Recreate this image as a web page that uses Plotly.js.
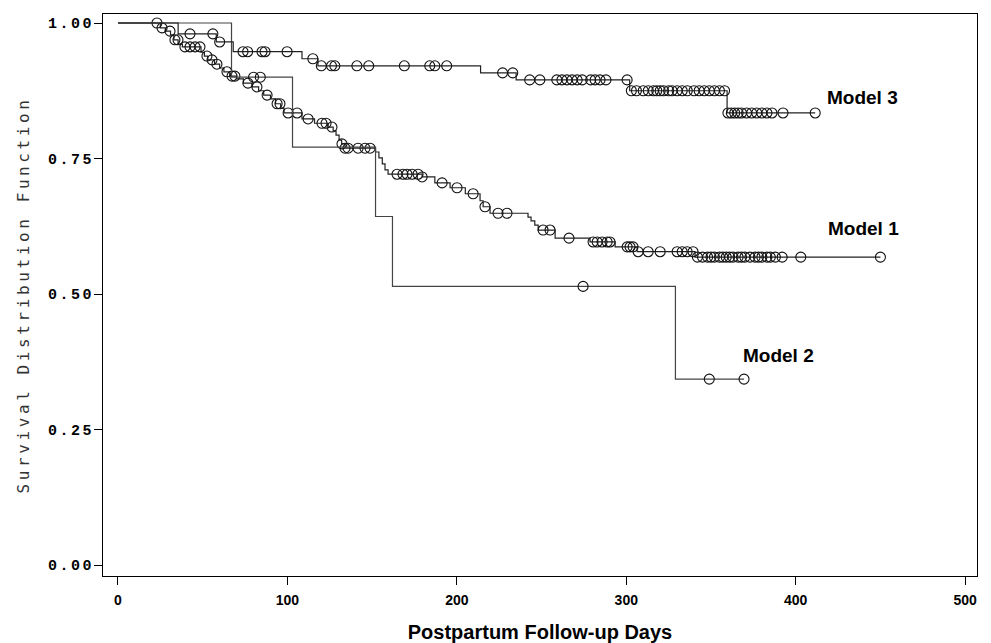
<!DOCTYPE html>
<html>
<head>
<meta charset="utf-8">
<script src="https://cdn.plot.ly/plotly-3.0.1.min.js"></script>
<style>
  html, body { margin: 0; padding: 0; background: #fff; }
  #chart { width: 991px; height: 643px; }
  .ytitle { letter-spacing: 3.6px; }
  .ytick text { letter-spacing: 2.5px; }
</style>
</head>
<body>
<div id="chart"></div>
<script>
// ---------------- DATA ----------------
// Model 1: event times (days) and survival after each event
const model1Times = [25, 28, 31, 33, 35.5, 38, 49, 51, 53, 57, 60, 62.5, 66, 70, 74, 79, 83, 86, 90, 93, 96, 98,
  108.6, 116, 124, 127, 128.7, 130.5, 132, 134, 152, 154, 156, 157.6, 159.4, 179.5, 187, 196, 205, 213.7, 215.5,
  219.6, 242, 243.8, 246, 248, 258, 278.6, 293.4, 306.4, 340.6];
const model1Surv = [0.991, 0.985, 0.978, 0.969, 0.961, 0.956, 0.946, 0.939, 0.932, 0.924, 0.917, 0.910, 0.902, 0.897,
  0.889, 0.882, 0.875, 0.867, 0.860, 0.851, 0.843, 0.834, 0.823, 0.815, 0.808, 0.801, 0.793, 0.784, 0.777, 0.769,
  0.762, 0.751, 0.740, 0.729, 0.721, 0.716, 0.705, 0.696, 0.685, 0.672, 0.661, 0.649, 0.642, 0.635, 0.627, 0.618,
  0.603, 0.596, 0.587, 0.578, 0.568];
const model1Censored = [23, 26, 30.7, 33.6, 35.4, 39.5, 42.5, 45.5, 48.4, 52.5, 55.5, 58.4, 64.3, 67.3, 69, 76.7,
  82, 88, 93.9, 95.6, 100.4, 105.7, 112.2, 120.4, 122.8, 126.3, 132.2, 134, 135.8, 141.7, 145.8, 148.8, 164.7,
  168.2, 170.6, 173.6, 177.1, 179.5, 191.3, 200.1, 209.6, 216.6, 224.3, 229.6, 250.9, 255, 266.2, 280.4, 282.8,
  285.7, 288.7, 290.4, 300.5, 302.2, 304, 307, 312.9, 320, 330, 333, 335.9, 339.4, 342, 345, 348, 350, 352, 355,
  357, 359, 361, 363, 366, 368, 370, 373, 376, 378, 380, 383, 385, 388, 392, 403, 450];

// Model 2
const model2Times = [67, 103, 152, 162, 329];
const model2Surv = [0.900, 0.771, 0.643, 0.514, 0.343];
const model2Censored = [80, 84, 274.5, 349, 369.5];

// Model 3
const model3Times = [35.5, 58, 68, 108.6, 118, 214, 235, 302, 359.5];
const model3Surv = [0.980, 0.965, 0.947, 0.934, 0.921, 0.908, 0.895, 0.875, 0.834];
const model3Censored = [42.5, 56, 60, 73.8, 76.5, 85, 86.8, 99.8, 115, 120, 126, 128, 141, 148, 169, 184, 187, 194,
  227, 233, 243, 249, 259, 262, 265, 268, 271, 274, 279, 281.6, 284.5, 288, 300.5, 303, 306, 310, 313, 316, 318,
  320, 322, 325, 327, 330, 333, 336, 340, 343, 346, 349, 352, 355, 358, 360, 362, 364, 366, 368, 371, 374, 377,
  380, 383, 386, 392.5, 411.5];

const modelNames = ["Model 1", "Model 2", "Model 3"];
const labelX = [418, 368, 417];
const labelY = [0.620, 0.387, 0.862];

const xTicks = [0, 100, 200, 300, 400, 500];
const yTicks = [0, 0.25, 0.5, 0.75, 1.0];
const yTickText = ["0.00", "0.25", "0.50", "0.75", "1.00"];

// ---------------- BUILD ----------------
function survAt(times, surv, t) {
  let s = 1.0;
  for (let i = 0; i < times.length; i++) {
    if (times[i] <= t) s = surv[i];
  }
  return s;
}
function stepLine(times, surv, censored) {
  const endT = Math.max(times[times.length - 1], Math.max(...censored));
  const x = [0].concat(times, [endT]);
  const y = [1.0].concat(surv, [surv[surv.length - 1]]);
  return { x, y };
}

const models = [
  [model1Times, model1Surv, model1Censored, "#222"],
  [model2Times, model2Surv, model2Censored, "#444"],
  [model3Times, model3Surv, model3Censored, "#222"]
];

const traces = [];
models.forEach(([t, s, c, col], i) => {
  const ln = stepLine(t, s, c);
  traces.push({
    type: "scatter", mode: "lines", x: ln.x, y: ln.y,
    line: { shape: "hv", color: col, width: 1.2 },
    hoverinfo: "skip", showlegend: false, name: modelNames[i]
  });
  traces.push({
    type: "scatter", mode: "markers", x: c, y: c.map(v => survAt(t, s, v)),
    marker: { symbol: "circle-open", size: 10, color: "#111", line: { width: 1.1, color: "#111" } },
    showlegend: false, name: modelNames[i] + " censored"
  });
});

const annotations = modelNames.map((n, i) => ({
  x: labelX[i], y: labelY[i], xref: "x", yref: "y", text: n, showarrow: false,
  xanchor: "left", yanchor: "middle",
  font: { family: "Liberation Sans, Arial, sans-serif", size: 19, color: "#000", weight: "bold" }
}));

const layout = {
  width: 991, height: 643,
  margin: { l: 103, r: 14, t: 14, b: 67 },
  paper_bgcolor: "#fff", plot_bgcolor: "#fff",
  showlegend: false,
  xaxis: {
    range: [-8.85, 507], tickvals: xTicks, ticks: "outside", ticklen: 8, tickwidth: 1, tickcolor: "#000",
    ticklabelstandoff: 3,
    showgrid: false, zeroline: false, showline: true, linecolor: "#000", linewidth: 1, mirror: true,
    tickfont: { family: "Liberation Sans, Arial, sans-serif", size: 14, color: "#000", weight: "bold" },
    title: { text: "Postpartum Follow-up Days", standoff: 19,
      font: { family: "Liberation Sans, Arial, sans-serif", size: 20, color: "#000", weight: "bold" } }
  },
  yaxis: {
    range: [-0.0203, 1.0166], tickvals: yTicks, ticktext: yTickText, ticks: "outside", ticklen: 8, tickwidth: 1,
    ticklabelstandoff: -3,
    tickcolor: "#000", showgrid: false, zeroline: false, showline: true, linecolor: "#000", linewidth: 1, mirror: true,
    tickfont: { family: "Liberation Mono, DejaVu Sans Mono, monospace", size: 15, color: "#000", weight: "bold" },
    title: { text: "Survival Distribution Function", standoff: 14,
      font: { family: "DejaVu Sans Mono, Liberation Mono, monospace", size: 16, color: "#333" } }
  },
  annotations: annotations
};

Plotly.newPlot("chart", traces, layout, { displayModeBar: false, staticPlot: true });
</script>
</body>
</html>
